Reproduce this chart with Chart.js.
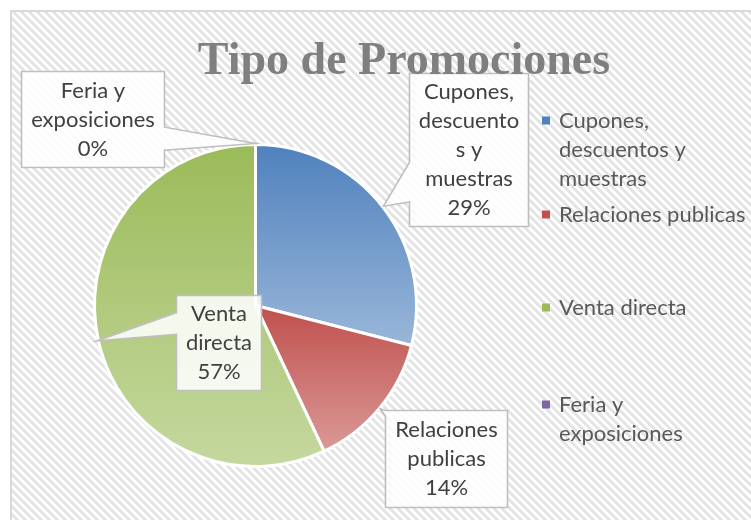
<!DOCTYPE html>
<html>
<head>
<meta charset="utf-8">
<script src="https://cdn.jsdelivr.net/npm/chart.js@4/dist/chart.umd.min.js"></script>
<style>
  html, body { margin: 0; padding: 0; background: #fff; }
  #wrap { width: 751px; height: 520px; position: relative; }
</style>
</head>
<body>
<div id="wrap"><canvas id="promo"></canvas></div>
<script>
// ---- data ----
const chartTitle = 'Tipo de Promociones';
const categories = ['Cupones, descuentos y muestras', 'Relaciones publicas', 'Venta directa', 'Feria y exposiciones'];
const shares = [29, 14, 57, 0];
// wrapped text as it is printed in the legend and in the callouts
const legendLines = [['Cupones,', 'descuentos y', 'muestras'], ['Relaciones publicas'], ['Venta directa'], ['Feria y', 'exposiciones']];
const calloutLines = [['Cupones,', 'descuento', 's y', 'muestras'], ['Relaciones', 'publicas'], ['Venta', 'directa'], ['Feria y', 'exposiciones']];

// ---- styling ----
const baseColors = ['#4f81bd', '#c0504d', '#9bbb59', '#8064a2'];
const TEXT_FONT = '22px Lato, "Open Sans", sans-serif';
const LINE_H = 29;

// callout boxes, placed relative to the pie centre
const calloutBoxes = [
  { dx: 154, dy: -232, w: 119, h: 153, side: 'left', base: [0.58, 0.84] },
  { dx: 130, dy: 105, w: 122, h: 97, side: 'left', base: [0.0, 0.06] },
  { dx: -79, dy: -10, w: 85, h: 95, side: 'left', base: [0.18, 0.41] },
  { dx: -234, dy: -234, w: 143, h: 96, side: 'right', base: [0.58, 0.82] }
];
// legend block
const legendBox = { x: 542, rows: [121, 215, 308, 405] };

function tint(hex, f) {
  const n = parseInt(hex.slice(1), 16);
  const r = (n >> 16) & 255, g = (n >> 8) & 255, b = n & 255;
  const m = c => Math.round(c + (255 - c) * f);
  return `rgb(${m(r)},${m(g)},${m(b)})`;
}

// each slice shades from its colour at its top edge to a lighter tint at its bottom edge
function sliceFill(ctx) {
  const i = ctx.dataIndex;
  const chart = ctx.chart, a = chart.chartArea;
  if (!a || i === undefined) return baseColors[i] || '#888';
  const cx = (a.left + a.right) / 2, cy = (a.top + a.bottom) / 2;
  const r = Math.min(a.width, a.height) / 2;
  const total = shares.reduce((s, v) => s + v, 0);
  let start = -Math.PI / 2;
  for (let k = 0; k < i; k++) start += shares[k] / total * 2 * Math.PI;
  const end = start + shares[i] / total * 2 * Math.PI;
  const ys = [cy, cy + r * Math.sin(start), cy + r * Math.sin(end)];
  [-Math.PI / 2, Math.PI / 2, 3 * Math.PI / 2].forEach(t => { if (t > start && t < end) ys.push(cy + r * Math.sin(t)); });
  const top = Math.min(...ys), bot = Math.max(...ys);
  const g = chart.ctx.createLinearGradient(0, top, 0, Math.max(bot, top + 1));
  g.addColorStop(0, baseColors[i]);
  g.addColorStop(1, tint(baseColors[i], 0.42));
  return g;
}

// hatched chart area behind everything
const backdrop = {
  id: 'backdrop',
  beforeDraw(chart) {
    const c = chart.ctx, W = chart.width, H = chart.height;
    const p = document.createElement('canvas');
    p.width = 8; p.height = 8;
    const pc = p.getContext('2d');
    pc.fillStyle = '#ffffff'; pc.fillRect(0, 0, 8, 8);
    pc.fillStyle = '#e4e4e4';
    for (let y = 0; y < 8; y++) for (let x = 0; x < 8; x++) {
      if (((x - y) % 8 + 8) % 8 < 4) pc.fillRect(x, y, 1, 1);
    }
    c.save();
    c.fillStyle = '#ffffff'; c.fillRect(0, 0, W, H);
    c.fillStyle = c.createPattern(p, 'repeat');
    c.fillRect(10, 10, W - 10, H - 10);
    c.strokeStyle = '#d9d9d9'; c.lineWidth = 2;
    c.beginPath(); c.moveTo(11, H); c.lineTo(11, 11); c.lineTo(W, 11); c.stroke();
    c.restore();
  }
};

// data callouts, legend and title
const annotations = {
  id: 'annotations',
  afterDatasetsDraw(chart) {
    const c = chart.ctx;
    const meta = chart.getDatasetMeta(0);
    const total = shares.reduce((s, v) => s + v, 0);
    c.save();
    meta.data.forEach((arc, i) => {
      const p = arc.getProps(['x', 'y', 'startAngle', 'endAngle', 'outerRadius'], true);
      const mid = (p.startAngle + p.endAngle) / 2;
      const R = p.outerRadius + 1;
      const tx = p.x + R * Math.cos(mid), ty = p.y + R * Math.sin(mid);
      const b = calloutBoxes[i];
      const L = p.x + b.dx, T = p.y + b.dy, Rr = L + b.w, B = T + b.h;
      c.beginPath();
      if (b.side === 'left') {
        c.moveTo(L, T); c.lineTo(Rr, T); c.lineTo(Rr, B); c.lineTo(L, B);
        c.lineTo(L, T + b.h * b.base[1]); c.lineTo(tx, ty); c.lineTo(L, T + b.h * b.base[0]);
      } else {
        c.moveTo(L, T); c.lineTo(Rr, T); c.lineTo(Rr, T + b.h * b.base[0]); c.lineTo(tx, ty);
        c.lineTo(Rr, T + b.h * b.base[1]); c.lineTo(Rr, B); c.lineTo(L, B);
      }
      c.closePath();
      c.fillStyle = 'rgba(255,255,255,0.86)';
      c.fill();
      c.strokeStyle = '#bfbfbf'; c.lineWidth = 1.6;
      c.stroke();
      const lines = calloutLines[i].concat([Math.round(shares[i] / total * 100) + '%']);
      c.fillStyle = '#404040';
      c.font = TEXT_FONT;
      c.textAlign = 'center'; c.textBaseline = 'middle';
      const y0 = (T + B) / 2 - (lines.length - 1) * LINE_H / 2;
      lines.forEach((t, k) => c.fillText(t, (L + Rr) / 2, y0 + k * LINE_H));
    });

    // legend
    c.font = TEXT_FONT;
    c.textAlign = 'left'; c.textBaseline = 'middle';
    categories.forEach((name, i) => {
      const y = legendBox.rows[i];
      c.fillStyle = baseColors[i];
      c.fillRect(legendBox.x, y - 4.5, 8, 8);
      c.fillStyle = '#595959';
      legendLines[i].forEach((t, k) => c.fillText(t, legendBox.x + 17, y + k * LINE_H));
    });

    // title
    c.font = 'bold 46px "Liberation Serif", "Times New Roman", serif';
    c.fillStyle = '#7f7f7f';
    c.textAlign = 'center'; c.textBaseline = 'alphabetic';
    c.fillText(chartTitle, 404, 74);
    c.restore();
  }
};

new Chart(document.getElementById('promo'), {
  type: 'pie',
  data: {
    labels: categories,
    datasets: [{
      data: shares,
      backgroundColor: sliceFill,
      borderColor: '#ffffff',
      borderWidth: 3
    }]
  },
  options: {
    responsive: true,
    maintainAspectRatio: false,
    animation: false,
    events: [],
    layout: { padding: { left: 93, right: 333, top: 143, bottom: 52 } },
    plugins: {
      legend: { display: false },
      title: { display: false },
      tooltip: { enabled: false }
    }
  },
  plugins: [backdrop, annotations]
});
</script>
</body>
</html>
